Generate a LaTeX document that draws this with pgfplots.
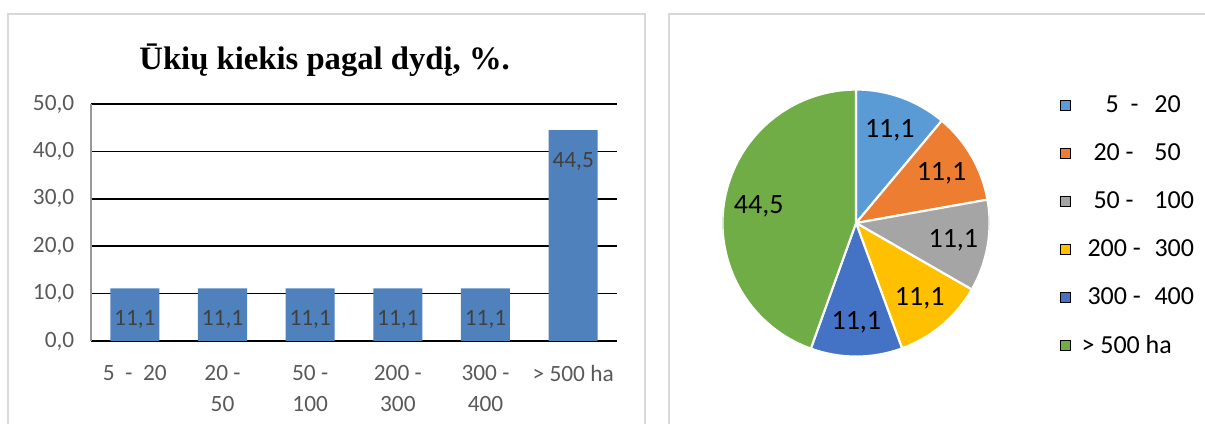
\documentclass[border=0pt]{standalone}
\usepackage{pgfplots}
\pgfplotsset{compat=1.18}
\usepackage{pgfplotstable}
\usepackage{fontspec}
\setmainfont{Carlito}
\newfontfamily\titlefont{Liberation Serif}

\definecolor{barblue}{HTML}{4F81BD}
\definecolor{ticktxt}{HTML}{595959}
\definecolor{bartxt}{HTML}{404040}
\definecolor{frame}{HTML}{D9D9D9}
\definecolor{c1}{HTML}{5B9BD5}
\definecolor{c2}{HTML}{ED7D31}
\definecolor{c3}{HTML}{A5A5A5}
\definecolor{c4}{HTML}{FFC000}
\definecolor{c5}{HTML}{4472C4}
\definecolor{c6}{HTML}{70AD47}

% share of farms by size, %
\pgfplotstableread{
x val
0 11.1
1 11.1
2 11.1
3 11.1
4 11.1
5 44.5
}\bardata

\newcommand{\legtxt}[3]{\makebox[54.75pt][l]{\hspace{#1}#2}#3}

\begin{document}
\begin{tikzpicture}
\path[use as bounding box] (0,0) rectangle (903.75pt,318pt);

% panel frames
\draw[frame, line width=1.5pt] (6pt,-10pt) -- (6pt,307.5pt) -- (483.75pt,307.5pt) -- (483.75pt,-10pt);
\draw[frame, line width=1.5pt] (501.75pt,-10pt) -- (501.75pt,307.5pt) -- (915pt,307.5pt);

\node[font=\titlefont\bfseries\fontsize{24.5}{28}\selectfont] at (243.5pt,273pt) {Ūkių kiekis pagal dydį, \%.};

\begin{axis}[
  at={(68.25pt,62.25pt)}, anchor=south west,
  scale only axis, width=394.5pt, height=177.75pt,
  ybar, bar width=36.75pt,
  xmin=-0.5, xmax=5.5, ymin=0, ymax=50,
  ytick={0,10,...,50},
  xtick=data,
  xticklabels={{5\ \ -\ \ 20},{20 -\\50},{50 -\\100},{200 -\\300},{300 -\\400},{> 500 ha}},
  axis x line*=bottom, axis y line*=left,
  x axis line style={black, line width=1.1pt, -},
  y axis line style={black!40, line width=0.8pt, -},
  major tick length=0pt,
  ymajorgrids, major grid style={black, line width=1.1pt},
  /pgf/number format/.cd, fixed, fixed zerofill, precision=1, use comma, assume math mode=true,
  /pgfplots/.cd,
  tick label style={font=\fontsize{17.5}{23}\selectfont, text=ticktxt},
  yticklabel style={xshift=-9pt},
  xticklabel style={align=center, yshift=-15pt},
  nodes near coords,
  every node near coord/.append style={anchor=center, yshift=-23.5pt, text=bartxt, font=\fontsize{17.5}{20}\selectfont},
]
\addplot[fill=barblue, draw=none] table[x=x, y=val] {\bardata};
\end{axis}

\begin{axis}[
  at={(541.9pt,50.6pt)}, anchor=south west,
  scale only axis, width=200.25pt, height=200.25pt,
  xmin=-1, xmax=1, ymin=-1, ymax=1,
  hide axis,
  legend image code/.code={\fill[#1] (0pt,-3.75pt) rectangle (7.5pt,3.75pt);},
  legend cell align=left,
  legend style={draw=none, fill=none, at={(1.264,1.034)}, anchor=north west,
    inner sep=0pt, row sep=0pt,
    font=\fontsize{19.5}{22}\selectfont,
    nodes={inner sep=0pt, minimum height=36.1pt},
    /tikz/every odd column/.append style={column sep=8pt}},
]
\addlegendimage{fill=c1}\addlegendentry{\legtxt{18pt}{5\hspace{9pt}-}{20}}
\addlegendimage{fill=c2}\addlegendentry{\legtxt{9pt}{20 -}{50}}
\addlegendimage{fill=c3}\addlegendentry{\legtxt{9pt}{50 -}{100}}
\addlegendimage{fill=c4}\addlegendentry{\legtxt{4.5pt}{200 -}{300}}
\addlegendimage{fill=c5}\addlegendentry{\legtxt{4.5pt}{300 -}{400}}
\addlegendimage{fill=c6}\addlegendentry{> 500 ha}
\pgfplotsextra{
  \foreach \v/\c [remember=\ae as \as (initially 90)] in {11.1/c1,11.1/c2,11.1/c3,11.1/c4,11.1/c5,44.5/c6} {
    \pgfmathsetmacro\ae{\as-3.6*\v}
    \pgfmathsetmacro\am{(\as+\ae)/2}
    \fill[\c, draw=white, line width=1.6pt] (axis cs:0,0) -- (axis cs:{cos(\as)},{sin(\as)})
      arc[start angle=\as, end angle=\ae, radius=100.1pt] -- cycle;
    \node[font=\fontsize{21}{24}\selectfont] at (axis cs:{0.74*cos(\am)},{0.74*sin(\am)})
      {\pgfmathprintnumber[fixed, precision=1, use comma, assume math mode=true]{\v}};
  }
}
\end{axis}
\end{tikzpicture}
\end{document}
